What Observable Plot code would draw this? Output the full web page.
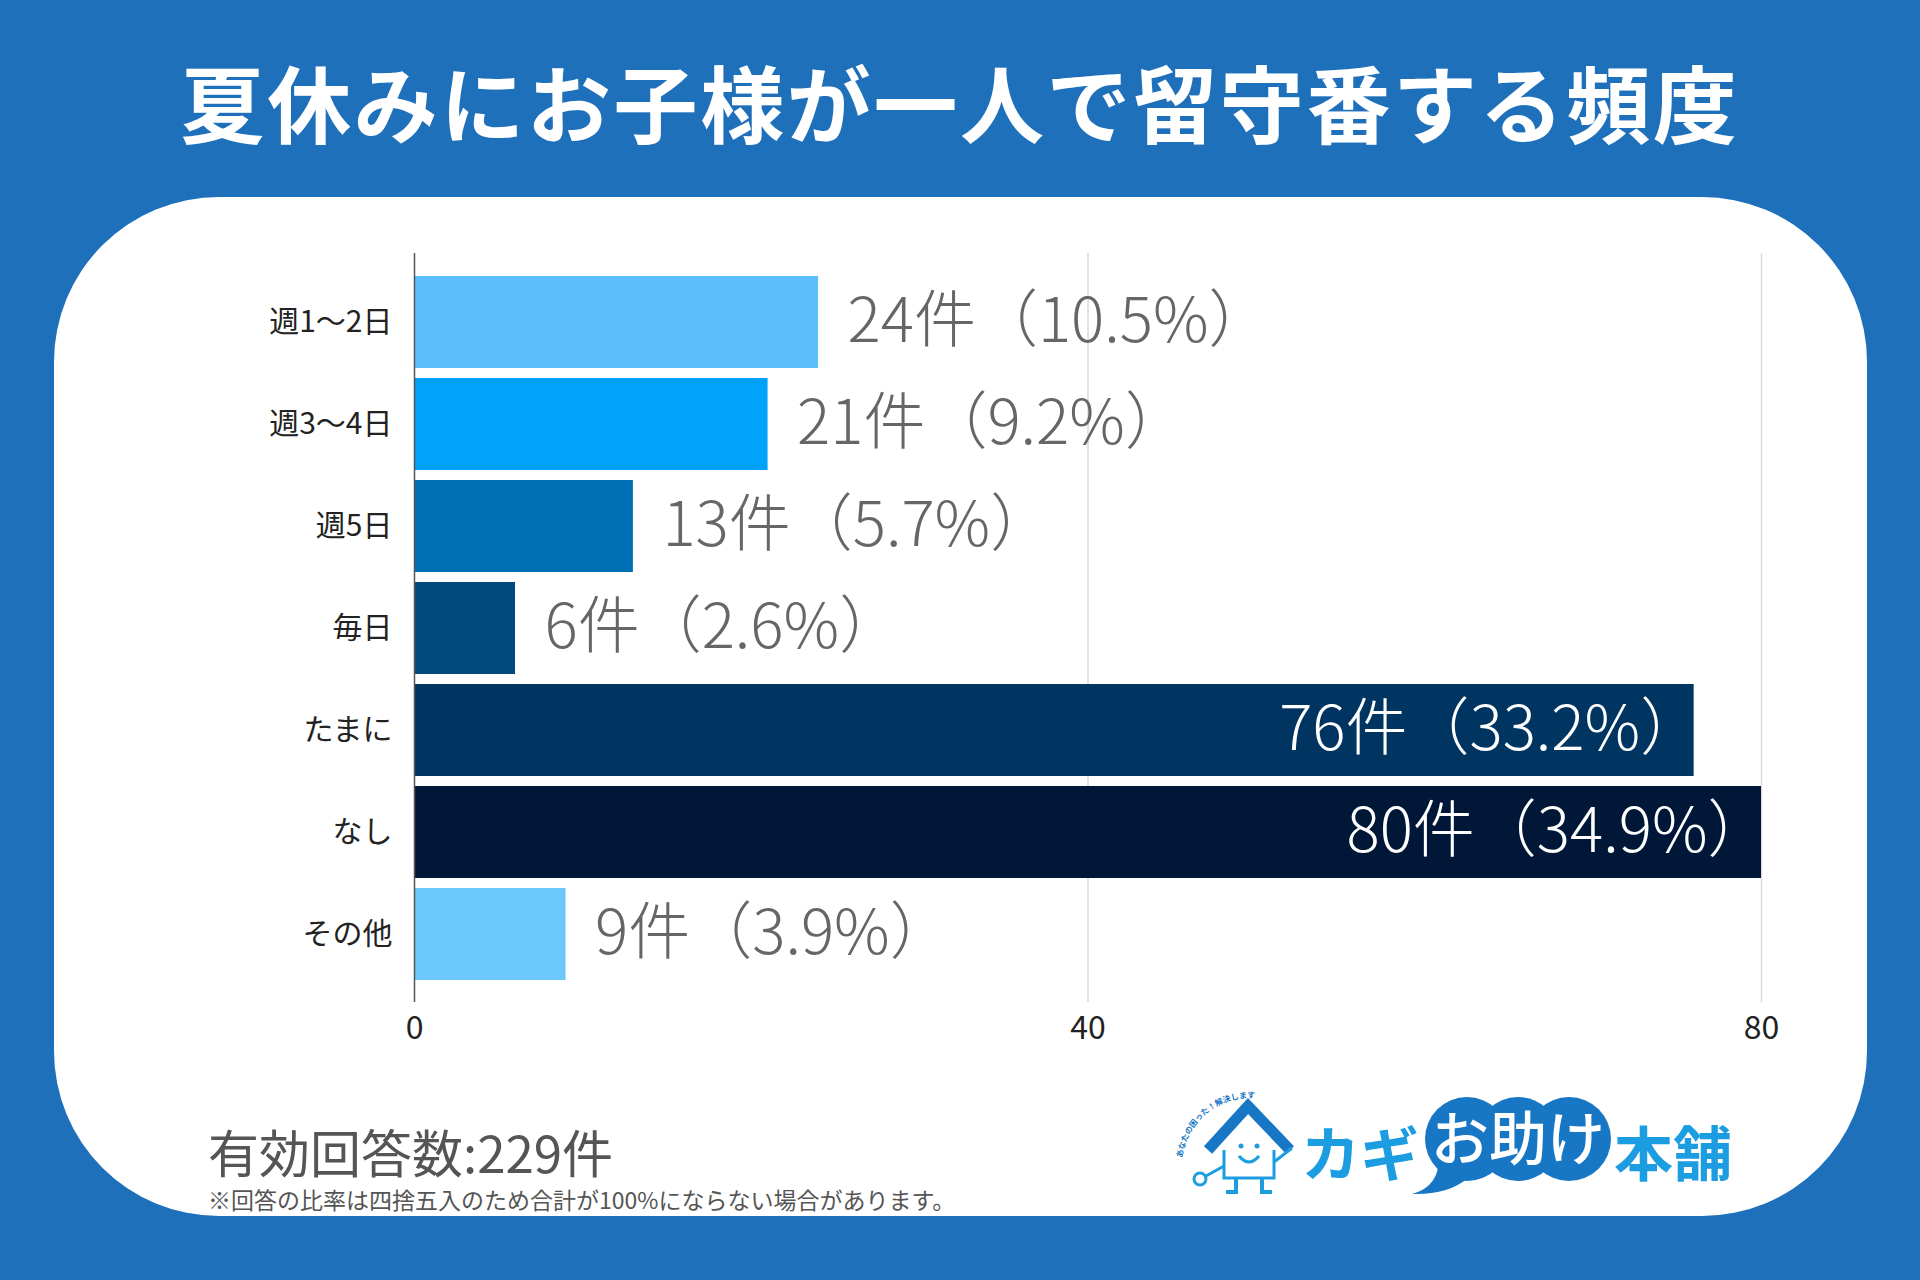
<!DOCTYPE html>
<html>
<head>
<meta charset="utf-8">
<script src="https://cdn.jsdelivr.net/npm/d3@7"></script>
<script src="https://cdn.jsdelivr.net/npm/@observablehq/plot@0.6"></script>
<style>
  html, body { margin: 0; padding: 0; background: #1f70bb; }
  #page { position: relative; width: 1920px; height: 1280px; background: #1f70bb; overflow: hidden;
          font-family: "Noto Sans CJK JP", "Noto Sans", sans-serif; }
  #title { position: absolute; left: 0; top: 59px; width: 1920px; text-align: center; color: #fff;
           font-size: 84px; line-height: 84px; font-weight: 700; letter-spacing: 2.6px; }
  #panel { position: absolute; left: 54px; top: 197px; width: 1813px; height: 1019px; background: #fff;
           border-radius: 165px; }
  #chart { position: absolute; left: 0; top: 200px; }
  #total { position: absolute; left: 208px; top: 1126px; font-size: 51px; line-height: 51px; color: #555; }
  #note { position: absolute; left: 208px; top: 1188px; font-size: 23px; line-height: 23px; color: #555; }
  #logo { position: absolute; left: 1160px; top: 1070px; overflow: visible; }
</style>
</head>
<body>
<div id="page">
  <div id="title">夏休みにお子様が一人で留守番する頻度</div>
  <div id="panel"></div>
  <div id="chart"></div>
  <div id="total">有効回答数:229件</div>
  <div id="note">※回答の比率は四捨五入のため合計が100%にならない場合があります。</div>
  <svg id="logo" width="590" height="140" viewBox="0 0 590 140">
    <defs>
      <path id="arcPath" d="M 6 90 A 67.5 67.5 0 0 1 140 78"/>
    </defs>
    <g transform="translate(20,10)">
      <path d="M 28 70 L 68 26 L 110 70" fill="none" stroke="#1877c4" stroke-width="11" stroke-linejoin="miter"/>
      <path d="M 44 70 L 44 98 L 94 98 L 94 70" fill="none" stroke="#1c9de2" stroke-width="3"/>
      <circle cx="61" cy="66" r="2.5" fill="#1c9de2"/>
      <circle cx="77" cy="66" r="2.5" fill="#1c9de2"/>
      <path d="M 59 76 Q 69 88 79 76" fill="none" stroke="#1c9de2" stroke-width="3"/>
      <path d="M 56 98 L 56 112 L 46 112 M 82 98 L 82 112 L 92 112" fill="none" stroke="#1c9de2" stroke-width="4"/>
      <path d="M 94 82 L 112 68" fill="none" stroke="#1c9de2" stroke-width="3"/>
      <path d="M 44 86 L 26 96" fill="none" stroke="#1c9de2" stroke-width="3"/>
      <circle cx="20" cy="99" r="6" fill="none" stroke="#1c9de2" stroke-width="3"/>
      <text x="121" y="96" font-size="59" font-weight="700" fill="#1c9de2">カギ</text>
      <path d="M 258 88 Q 254 108 232 114 Q 268 115 288 98 Z" fill="#1877c4"/>
      <circle cx="287" cy="59" r="42" fill="#1877c4"/>
      <circle cx="338" cy="59" r="42" fill="#1877c4"/>
      <circle cx="389" cy="59" r="42" fill="#1877c4"/>
      <text x="338" y="80" text-anchor="middle" font-size="58" font-weight="500" fill="#fff">お助け</text>
      <text x="434" y="96" font-size="59" font-weight="700" fill="#1c9de2">本舗</text>
    </g>
    <g transform="translate(16,6)">
      <text font-size="8" font-weight="700" fill="#1877c4"><textPath href="#arcPath" startOffset="8">あなたの困った！解決します</textPath></text>
    </g>
  </svg>
</div>
<script>
// ---- data ----
const categories = ["週1〜2日", "週3〜4日", "週5日", "毎日", "たまに", "なし", "その他"];
const counts = [24, 21, 13, 6, 76, 80, 9];
const percents = ["10.5", "9.2", "5.7", "2.6", "33.2", "34.9", "3.9"];
const barColors = ["#5bbffb", "#00a2fa", "#0070b5", "#014a7d", "#003461", "#001737", "#6cc7fc"];
const xTicks = [0, 40, 80];
const gridValues = [40, 80];
const insideThreshold = 40;

const rows = categories.map((c, i) => ({
  category: c,
  count: counts[i],
  label: `${counts[i]}件（${percents[i]}%）`,
  color: barColors[i]
}));
const outside = rows.filter(d => d.count < insideThreshold);
const inside = rows.filter(d => d.count >= insideThreshold);

const chart = Plot.plot({
  width: 1920,
  height: 880,
  marginLeft: 414,
  marginRight: 159,
  marginTop: 53,
  marginBottom: 78,
  style: { background: "transparent", fontFamily: "'Noto Sans CJK JP', sans-serif", fontSize: "30px", color: "#222" },
  x: { domain: [0, 80], ticks: xTicks, label: null },
  y: { domain: categories, range: [62, 793.3], padding: 0.1, label: null },
  color: { type: "identity" },
  marks: [
    Plot.ruleX(gridValues, { stroke: "#d9d9d9", strokeWidth: 1.5 }),
    Plot.barX(rows, { x: "count", y: "category", fill: "color" }),
    Plot.ruleX([0], { stroke: "#555", strokeWidth: 1.5 }),
    Plot.text(outside, { x: "count", y: "category", text: "label", textAnchor: "start", dx: 29,
      fill: "#666", fontSize: 62, fontWeight: 300 }),
    Plot.text(inside, { x: "count", y: "category", text: "label", textAnchor: "end", dx: 8,
      fill: "#fff", fontSize: 62, fontWeight: 300 }),
    Plot.axisY({ tickSize: 0, tickPadding: 22, fontSize: 30, label: null }),
    Plot.axisX({ ticks: xTicks, tickSize: 0, tickPadding: 14, fontSize: 32, label: null })
  ]
});
document.getElementById("chart").appendChild(chart);
</script>
</body>
</html>
